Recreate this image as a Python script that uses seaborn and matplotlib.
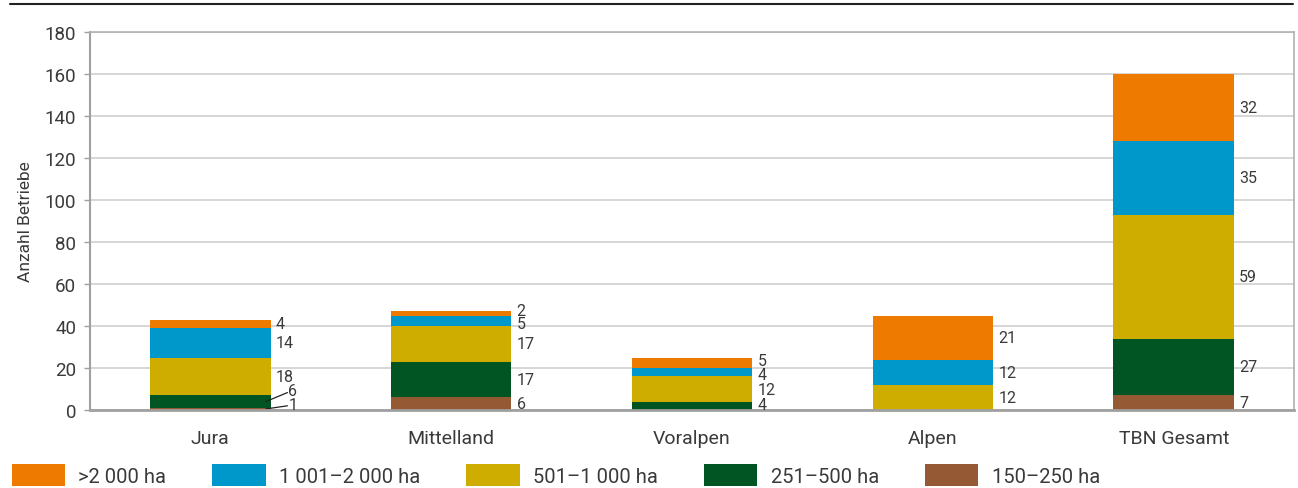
import numpy as np
import pandas as pd
import matplotlib
matplotlib.use("Agg")
import matplotlib.pyplot as plt
import seaborn as sns
from matplotlib.lines import Line2D
from matplotlib.patches import Patch

# data
regions = ["Jura", "Mittelland", "Voralpen", "Alpen", "TBN Gesamt"]
classes = ["150\u2013250 ha", "251\u2013500 ha", "501\u20131 000 ha",
           "1 001\u20132 000 ha", ">2 000 ha"]
ha_150_250 = [1, 6, 0, 0, 7]
ha_251_500 = [6, 17, 4, 0, 27]
ha_501_1000 = [18, 17, 12, 12, 59]
ha_1001_2000 = [14, 5, 4, 12, 35]
ha_over_2000 = [4, 2, 5, 21, 32]

colors = ["#955A33", "#005522", "#CFAD00", "#0097CB", "#EE7A00"]

sns.set_theme(style="white")
plt.rcParams["font.family"] = ["Roboto", "DejaVu Sans"]
TXT = "#3a3a3a"

layers = [ha_150_250, ha_251_500, ha_501_1000, ha_1001_2000, ha_over_2000]

fig = plt.figure(figsize=(12.98, 4.89), dpi=100)
ax = fig.add_axes([0.0693, 0.1595, 0.9277, 0.773])

bottom = np.zeros(len(regions))
for vals, col in zip(layers, colors):
    d = pd.DataFrame({"region": regions, "n": vals})
    sns.barplot(data=d, x="region", y="n", color=col, width=0.5, bottom=bottom,
                ax=ax, saturation=1, errorbar=None, edgecolor="none", linewidth=0)
    bottom = bottom + np.array(vals)


def spread(centers, gap, floor):
    y = list(centers)
    for _ in range(60):
        for j in range(len(y) - 1):
            diff = y[j + 1] - y[j]
            if diff < gap:
                d = (gap - diff) / 2
                y[j] -= d
                y[j + 1] += d
        if y:
            y[0] = max(y[0], floor)
        for j in range(1, len(y)):
            y[j] = max(y[j], y[j - 1] + gap)
    return y


# value labels right of the bars
bar_half = 0.25
for i in range(len(regions)):
    cum = 0
    items = []
    for vals in layers:
        v = vals[i]
        if v > 0:
            items.append((v, cum, cum + v / 2))
        cum += v
    ys = spread([c for _, _, c in items], 6.3, 2.8)
    for (v, lo, c), y in zip(items, ys):
        if y < lo - 1 or y > lo + v + 1:
            x0 = i + bar_half - 0.02
            x1 = i + bar_half + 0.07
            ax.plot([x0, x1], [c, y - 0.8], color="#222222", lw=0.9)
            ax.text(x1 + 0.004, y, str(v), ha="left", va="center", fontsize=11.5, color=TXT)
        else:
            ax.text(i + bar_half + 0.022, y, str(v), ha="left", va="center", fontsize=11.5, color=TXT)

ax.set_xlim(-0.5, 4.5)
ax.set_ylim(0, 180)
ax.set_yticks(np.arange(0, 181, 20))
ax.yaxis.grid(True, color="#d0d0d0", lw=1.2)
ax.set_axisbelow(True)
for s in ["top", "right"]:
    ax.spines[s].set_color("#b0b0b0")
    ax.spines[s].set_linewidth(1.2)
ax.spines["left"].set_color("#a0a0a0")
ax.spines["left"].set_linewidth(1.5)
ax.spines["bottom"].set_color("#a0a0a0")
ax.spines["bottom"].set_linewidth(2)
ax.tick_params(axis="y", left=True, length=4, width=1, color="#a0a0a0", labelsize=13.5,
               labelcolor=TXT, pad=6)
ax.tick_params(axis="x", bottom=False, labelsize=14, labelcolor=TXT, pad=8)
ax.set_xlabel("")
ax.set_ylabel("Anzahl Betriebe", fontsize=12.5, color=TXT, labelpad=8)

# legend, order as in reference
handles = [Patch(facecolor=c, edgecolor="none") for c in colors][::-1]
fig.legend(handles, classes[::-1], loc="lower left", bbox_to_anchor=(-0.005, -0.033), ncol=5,
           frameon=False, fontsize=14.5, handlelength=2.65, handleheight=1.3,
           handletextpad=0.65, columnspacing=2.3, labelcolor=TXT)

fig.add_artist(Line2D([0.008, 0.996], [0.99, 0.99], color="#222222", lw=1.5))

fig.savefig("out.png", dpi=100)
